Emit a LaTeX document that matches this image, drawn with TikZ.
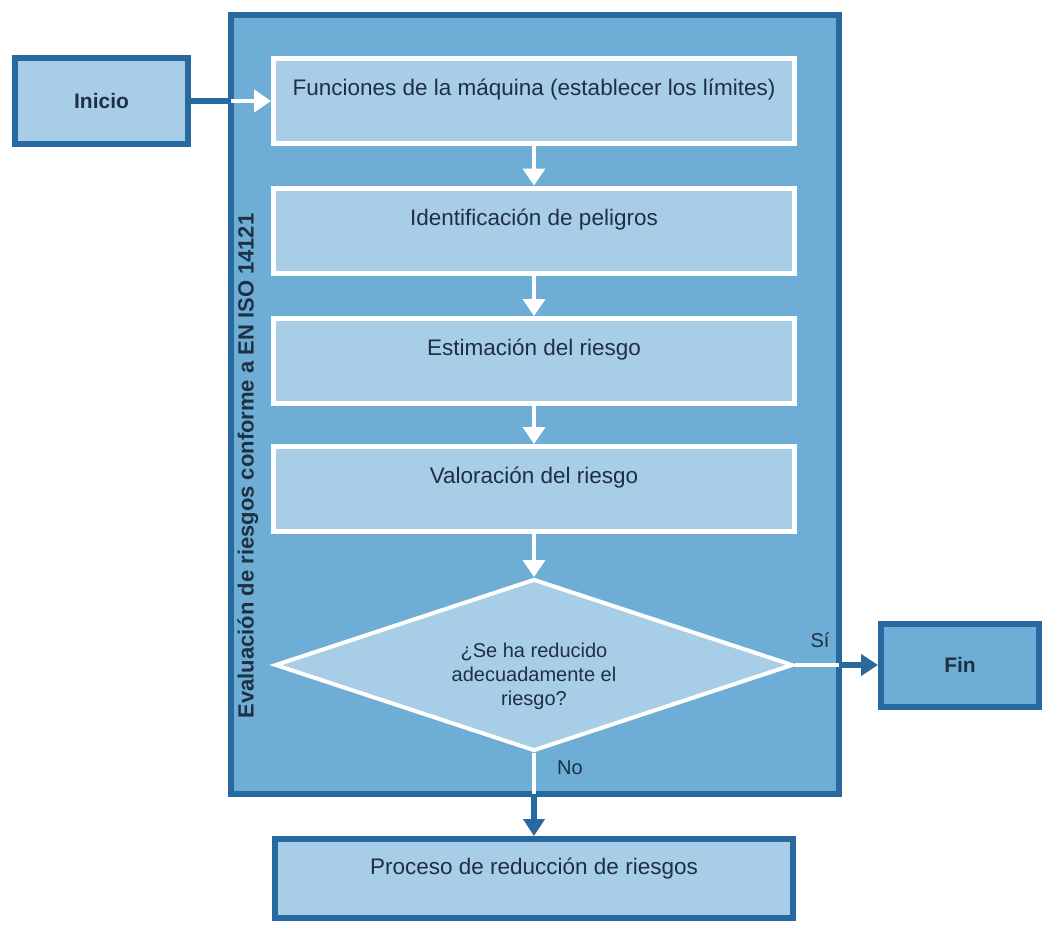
\documentclass[tikz,border=0pt]{standalone}
\usepackage{fontspec}
\setmainfont{Liberation Sans}
\usetikzlibrary{shapes.geometric,arrows.meta}

\definecolor{bordeAzul}{RGB}{40,106,160}
\definecolor{azulMedio}{RGB}{110,174,214}
\definecolor{azulClaro}{RGB}{168,205,231}
\definecolor{textoAzul}{RGB}{30,48,66}

\tikzset{every picture/.style={line width=0.75pt}}
\tikzset{
  pasobox/.style={draw=white, line width=5pt, fill=azulClaro, minimum width=521pt,
    minimum height=85pt, inner sep=0pt, text=textoAzul, text height=37pt, text depth=48pt,
    font=\fontsize{22.5}{26}\selectfont},
  extremobox/.style={draw=bordeAzul, line width=6pt, inner sep=0pt, text=textoAzul,
    font=\fontsize{21}{25}\selectfont\bfseries},
  flechablanca/.style={draw=white, line width=4pt, -{Triangle[length=17pt,width=22pt]}},
  lineaoscura/.style={draw=bordeAzul, line width=6pt},
  flechaoscura/.style={draw=bordeAzul, line width=6pt, -{Triangle[length=17pt,width=21pt]}},
  etiqueta/.style={inner sep=0pt, text=textoAzul, font=\fontsize{20}{24}\selectfont}
}

\begin{document}
\begin{tikzpicture}[x=1pt,y=1pt,yscale=-1]
\useasboundingbox (0,0) rectangle (1047,924);

% Marco principal
\node [draw=bordeAzul, line width=6pt, fill=azulMedio, minimum width=608pt, minimum height=779pt, inner sep=0pt] (marco) at (535,404.5) {};
% Texto vertical
\node [rotate=90, inner sep=0pt, text=textoAzul, font=\fontsize{22}{26}\selectfont\bfseries] (titulo) at (248,466) {Evaluación de riesgos conforme a EN ISO 14121};

% Pasos
\node [pasobox] (paso1) at (534,101) {Funciones de la máquina (establecer los límites)};
\node [pasobox] (paso2) at (534,230.5) {Identificación de peligros};
\node [pasobox] (paso3) at (534,361) {Estimación del riesgo};
\node [pasobox] (paso4) at (534,489) {Valoración del riesgo};
% Decision
\node [diamond, draw=white, line width=4pt, fill=azulClaro, minimum width=518pt, minimum height=172pt, inner sep=0pt] (decision) at (534,665) {};
\node [etiqueta, align=center] (pregunta) at (534,676) {¿Se ha reducido\\adecuadamente el\\riesgo?};

% Inicio, Fin, Proceso
\node [extremobox, fill=azulClaro, minimum width=173pt, minimum height=86pt] (inicio) at (101.5,101) {Inicio};
\node [extremobox, fill=azulMedio, minimum width=158pt, minimum height=83pt] (fin) at (960,665) {Fin};
\node [draw=bordeAzul, line width=6pt, fill=azulClaro, minimum width=518pt, minimum height=79pt, inner sep=0pt,
  text=textoAzul, text height=35pt, text depth=44pt, font=\fontsize{22.5}{26}\selectfont] (proceso) at (534,878.5) {Proceso de reducción de riesgos};

% Conectores
\coordinate (entrada) at (marco.west |- inicio.east);
\coordinate (salidaSi) at (marco.east |- decision.east);
\coordinate (salidaNo) at (marco.south -| decision.south);
\draw [lineaoscura] (inicio.east) -- (entrada);
\draw [flechablanca] ([xshift=3pt]entrada) -- (paso1.west);
\draw [flechablanca] (paso1.south) -- (paso2.north);
\draw [flechablanca] (paso2.south) -- (paso3.north);
\draw [flechablanca] (paso3.south) -- (paso4.north);
\draw [flechablanca] (paso4.south) -- (decision.north);
\draw [draw=white, line width=4pt] (decision.east) -- ([xshift=-3pt]salidaSi);
\draw [flechaoscura] (salidaSi) -- (fin.west);
\draw [draw=white, line width=4pt] (decision.south) -- ([yshift=-3pt]salidaNo);
\draw [flechaoscura] (salidaNo) -- (proceso.north);

% Text Node
\node [etiqueta] (si) at (820,640) {Sí};
% Text Node
\node [etiqueta] (no) at (570,768) {No};

\end{tikzpicture}
\end{document}
